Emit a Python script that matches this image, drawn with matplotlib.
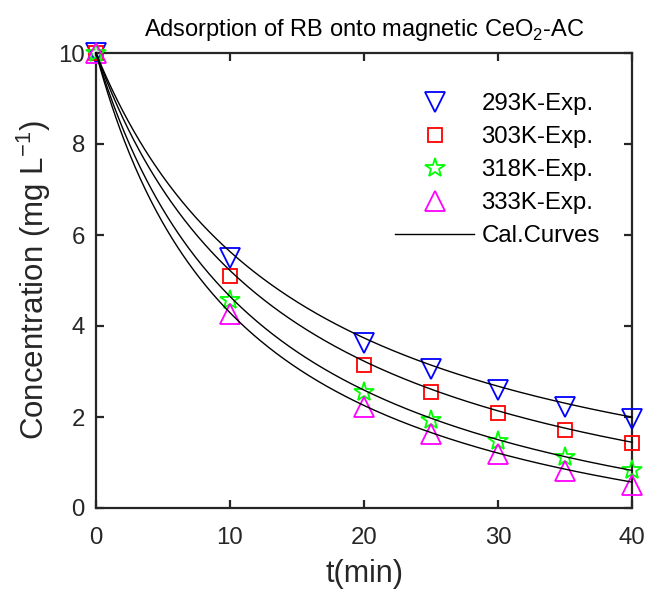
import numpy as np
import matplotlib
matplotlib.use("Agg")
import matplotlib.pyplot as plt
from matplotlib.lines import Line2D

plt.rcParams['font.family'] = ['Liberation Sans', 'DejaVu Sans']
plt.rcParams['mathtext.fontset'] = 'custom'
plt.rcParams['mathtext.rm'] = 'Liberation Sans'

# ---- data ----
t = [0, 10, 20, 25, 30, 35, 40]
c_293 = [10.0, 5.50, 3.63, 3.05, 2.59, 2.23, 1.96]
c_303 = [10.0, 5.10, 3.14, 2.54, 2.08, 1.71, 1.42]
c_318 = [10.0, 4.57, 2.54, 1.93, 1.48, 1.11, 0.84]
c_333 = [10.0, 4.26, 2.23, 1.63, 1.19, 0.81, 0.51]
labels = ['293K-Exp.', '303K-Exp.', '318K-Exp.', '333K-Exp.']

# calculated (model) curves: C = C0 - D*b*t/(1+b*t)
C0 = 10.0
fit_D = [11.08, 11.61, 12.04, 12.05]
fit_b = [0.065, 0.070, 0.080, 0.090]

colors = ['#0000ff', '#ff0000', '#00ff00', '#ff00ff']
markers = ['v', 's', '*', '^']
msizes = [14, 9.5, 15, 14.5]

fig = plt.figure(figsize=(6.48, 5.91), dpi=100)
ax = fig.add_axes([96/648, 1-508/591, 536/648, 455/591])

series = [c_293, c_303, c_318, c_333]
handles = []
for s, col, mk, ms, lab in zip(series, colors, markers, msizes, labels):
    ax.plot(t, s, linestyle='none', marker=mk, ms=ms, mfc='none', mec=col,
            mew=1.3, clip_on=False, zorder=3)
    handles.append(Line2D([], [], linestyle='none', marker=mk, ms=ms, mfc='none',
                          mec=col, mew=1.3, label=lab))

tt = np.linspace(0, 40, 400)
for D, b in zip(fit_D, fit_b):
    ax.plot(tt, C0 - D * b * tt / (1 + b * tt), color='black', lw=1.0, zorder=4,
            clip_on=False)
handles.append(Line2D([], [], color='black', lw=1.0, label='Cal.Curves'))

ax.set_xlim(0, 40)
ax.set_ylim(0, 10)
ax.set_xticks([0, 10, 20, 30, 40])
ax.set_yticks([0, 2, 4, 6, 8, 10])

dark = '#262626'
for sp in ax.spines.values():
    sp.set_linewidth(1.6)
    sp.set_color(dark)
ax.tick_params(direction='in', top=True, right=True, length=6, width=1.6,
               colors=dark, labelsize=17.3, pad=8)
ax.tick_params(axis='x', pad=14)

ax.set_xlabel('t(min)', fontsize=22, color=dark, labelpad=7)
ax.set_ylabel(r'Concentration (mg L$^{\mathregular{-1}}$)', fontsize=22.5,
              color=dark, labelpad=4)
ax.set_title(r'Adsorption of RB onto magnetic CeO$_{\mathregular{2}}$-AC',
             fontsize=17, color='black', pad=12)

leg = fig.legend(handles=handles, loc='upper left',
                 bbox_to_anchor=(395/648, 1-93/591), frameon=False,
                 fontsize=17.3, handlelength=3.3, handletextpad=0.3,
                 labelspacing=0.46, borderpad=0, borderaxespad=0)

fig.savefig('out.png', dpi=100)
